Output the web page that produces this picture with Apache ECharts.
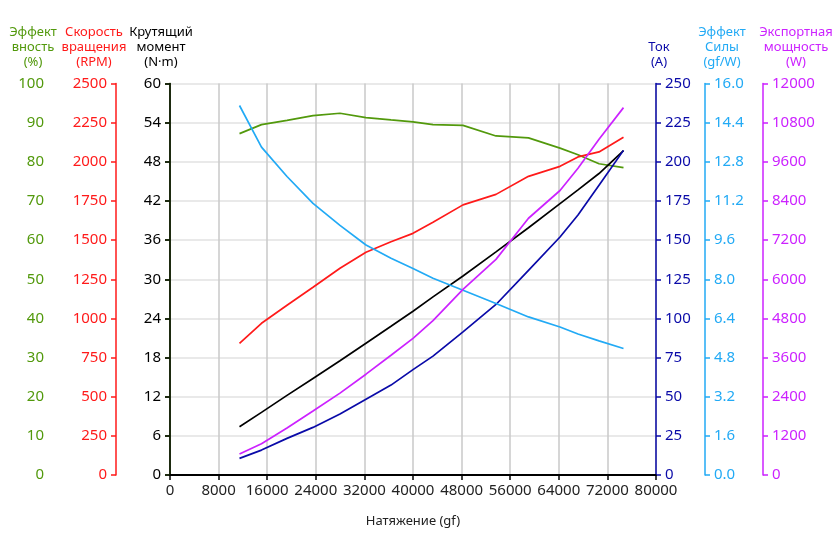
<!DOCTYPE html>
<html>
<head>
<meta charset="utf-8">
<script src="https://cdn.jsdelivr.net/npm/echarts@6/dist/echarts.min.js"></script>
<style>
  html, body { margin: 0; padding: 0; background: #fff; }
  #chart { width: 840px; height: 560px; }
</style>
</head>
<body>
<div id="chart"></div>
<script>
// натяжение (gf) - общая ось X
var thrust = [11440, 15060, 19260, 23540, 27980, 32260, 36380, 40000, 43290, 48230, 53660, 59010, 64200, 67160, 70620, 74650];
// эффективность (%)
var efficiency = [87.2, 89.5, 90.6, 91.8, 92.4, 91.3, 90.7, 90.2, 89.5, 89.3, 86.6, 86.1, 83.5, 81.8, 79.5, 78.5];
// скорость вращения (RPM)
var rpm = [840, 969, 1084, 1199, 1320, 1422, 1489, 1543, 1614, 1725, 1792, 1907, 1971, 2031, 2063, 2157];
// крутящий момент (N·m)
var torque = [7.4, 9.6, 12.2, 14.8, 17.5, 20.2, 22.8, 25.1, 27.3, 30.5, 34.2, 37.9, 41.6, 43.7, 46.2, 49.7];
// ток (A)
var current = [10.6, 15.9, 23.4, 30.4, 38.9, 48.3, 57.4, 67.3, 75.9, 91.4, 108.9, 130.7, 152, 166, 185, 207.3];
// эффект силы (gf/W)
var forceEff = [15.1, 13.4, 12.2, 11.1, 10.2, 9.4, 8.86, 8.44, 8.04, 7.55, 7.01, 6.46, 6.05, 5.76, 5.48, 5.17];
// экспортная мощность (W)
var power = [643, 960, 1440, 1960, 2510, 3090, 3670, 4190, 4730, 5690, 6610, 7870, 8720, 9400, 10290, 11260];

// подписи осей
var axisNames = [
  'Эффект\nвность\n(%)',
  'Скорость\nвращения\n(RPM)',
  'Крутящий\nмомент\n(N·m)',
  'Ток\n(A)',
  'Эффект\nСилы\n(gf/W)',
  'Экспортная\nмощность\n(W)'
];

var xTicks = { min: 0, max: 80000, interval: 8000 };

var cGreen = '#52990c';
var cRed = '#ff1a1a';
var cBlack = '#000000';
var cBlue = '#0a0aa8';
var cSky = '#22aaf5';
var cPink = '#cc22ff';

function pairs(ys) {
  var out = [];
  for (var i = 0; i < thrust.length; i++) {
    out.push([thrust[i], ys[i]]);
  }
  return out;
}

function plain(v) { return String(v); }

// одна вертикальная ось
function makeAxis(color, pos, offset, max, interval, fmt) {
  return {
    type: 'value',
    position: pos,
    offset: offset,
    min: 0,
    max: max,
    interval: interval,
    axisLine: { show: true, lineStyle: { color: color, width: 1.5 } },
    axisTick: { show: true, inside: false, length: 5, lineStyle: { color: color, width: 1.5 } },
    axisLabel: {
      color: color,
      fontSize: 15,
      fontFamily: 'Noto Sans',
      margin: 9,
      formatter: fmt || plain
    },
    splitLine: { show: false }
  };
}

// заголовок оси над ней
function axisTitle(text, color, cx) {
  return {
    type: 'text',
    x: cx,
    y: 70,
    style: {
      text: text,
      fill: color,
      font: '13px "Noto Sans"',
      lineHeight: 15,
      align: 'center',
      verticalAlign: 'bottom'
    }
  };
}

var chart = echarts.init(document.getElementById('chart'));

var yAxes = [
  makeAxis(cGreen, 'left', 117, 100, 10),
  makeAxis(cRed, 'left', 54, 2500, 250),
  makeAxis(cBlack, 'left', 0, 60, 6),
  makeAxis(cBlue, 'right', 0, 250, 25),
  makeAxis(cSky, 'right', 49, 16, 1.6, function (v) { return v.toFixed(1); }),
  makeAxis(cPink, 'right', 107, 12000, 1200)
];
// горизонтальная сетка по оси момента
yAxes[2].splitLine = { show: true, lineStyle: { color: '#e2e2e2', width: 1.5 } };

function line(data, idx, color) {
  return {
    type: 'line',
    yAxisIndex: idx,
    data: pairs(data),
    symbol: 'none',
    lineStyle: { color: color, width: 1.7 },
    itemStyle: { color: color },
    z: 3
  };
}

var option = {
  animation: false,
  backgroundColor: '#fff',
  grid: { left: 170, right: 184, top: 83.5, bottom: 85, containLabel: false },
  xAxis: {
    type: 'value',
    min: xTicks.min,
    max: xTicks.max,
    interval: xTicks.interval,
    name: 'Натяжение (gf)',
    nameLocation: 'middle',
    nameGap: 40,
    nameTextStyle: { color: '#222', fontSize: 13, fontFamily: 'Noto Sans' },
    axisLine: { show: true, lineStyle: { color: '#000', width: 2 } },
    axisTick: { show: true, length: 5, lineStyle: { color: '#000', width: 1.5 } },
    axisLabel: { color: '#222', fontSize: 15, fontFamily: 'Noto Sans', margin: 8, formatter: plain },
    splitLine: { show: true, lineStyle: { color: '#c8c8c8', width: 1.5 } }
  },
  yAxis: yAxes,
  graphic: [
    axisTitle(axisNames[0], cGreen, 33),
    axisTitle(axisNames[1], cRed, 94),
    axisTitle(axisNames[2], cBlack, 161),
    axisTitle(axisNames[3], cBlue, 659),
    axisTitle(axisNames[4], cSky, 722),
    axisTitle(axisNames[5], cPink, 796)
  ],
  series: [
    line(efficiency, 0, cGreen),
    line(rpm, 1, cRed),
    line(torque, 2, cBlack),
    line(current, 3, cBlue),
    line(forceEff, 4, cSky),
    line(power, 5, cPink)
  ]
};

chart.setOption(option);
</script>
</body>
</html>
